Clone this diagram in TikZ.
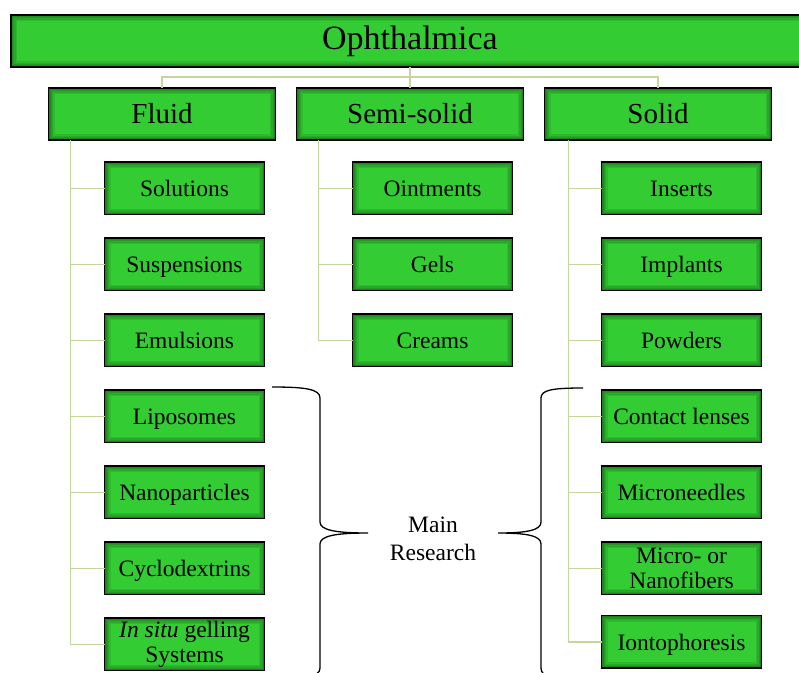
\documentclass[tikz,border=0pt]{standalone}
\usepackage{fontspec}
\setmainfont{Liberation Serif}
\usepackage{tikz}
\usetikzlibrary{positioning}
\definecolor{boxgreen}{HTML}{33CC33}
\definecolor{linkgreen}{HTML}{C3D69B}
\tikzset{
  greenbox/.style={
    draw=black, fill=boxgreen, line width=1.2pt, inner sep=1pt, outer sep=0pt, align=center,
    path picture={
      \foreach \w in {12,9,6,4,2.5}
        \draw[black, opacity=0.09, line width=\w pt] (path picture bounding box.south west) rectangle (path picture bounding box.north east);
    }
  },
  topbox/.style={greenbox, minimum width=798pt, minimum height=52pt, font=\fontsize{34}{38}\selectfont},
  catbox/.style={greenbox, minimum width=227pt, minimum height=52pt, font=\fontsize{29}{32}\selectfont},
  itembox/.style={greenbox, minimum width=160pt, minimum height=52.5pt, text height=20pt, text depth=3pt,
    font=\fontsize{23.5}{25}\selectfont},
  twoline/.style={text height={}, text depth={}},
  link/.style={draw=linkgreen, line width=1.5pt},
  bracket/.style={draw=black, line width=1.3pt}
}
\begin{document}
\begin{tikzpicture}[x=1pt, y=-1pt]
  \useasboundingbox (0,0) rectangle (799,672);
  \node[topbox] (oph) at (410,41) {Ophthalmica};

  \node[catbox, below=21pt of oph] (semi) {Semi-solid};
  \node[catbox, left=21pt of semi] (fluid) {Fluid};
  \node[catbox, right=21pt of semi] (solid) {Solid};

  % fluid column
  \node[itembox, below right=22pt and 56pt of fluid.south west] (sol) {Solutions};
  \node[itembox, below=23.5pt of sol]   (susp)   {Suspensions};
  \node[itembox, below=23.5pt of susp]  (emul)   {Emulsions};
  \node[itembox, below=23.5pt of emul]  (lipo)   {Liposomes};
  \node[itembox, below=23.5pt of lipo]  (nano)   {Nanoparticles};
  \node[itembox, below=23.5pt of nano]  (cyclo)  {Cyclodextrins};
  \node[itembox, twoline, below=23.5pt of cyclo] (insitu) {\textit{In situ} gelling\\Systems};

  % semi-solid column
  \node[itembox, below right=22pt and 56pt of semi.south west] (oint) {Ointments};
  \node[itembox, below=23.5pt of oint] (gels)   {Gels};
  \node[itembox, below=23.5pt of gels] (creams) {Creams};

  % solid column
  \node[itembox, below right=22pt and 57pt of solid.south west] (inserts) {Inserts};
  \node[itembox, below=23.5pt of inserts]  (implants) {Implants};
  \node[itembox, below=23.5pt of implants] (powders)  {Powders};
  \node[itembox, below=23.5pt of powders]  (lenses)   {Contact lenses};
  \node[itembox, below=23.5pt of lenses]   (needles)  {Microneedles};
  \node[itembox, twoline, below=23.5pt of needles] (fibers) {Micro- or\\Nanofibers};
  \node[itembox, below=21pt of fibers]     (ionto)    {Iontophoresis};

  \draw[link] (oph) -- (semi);
  \draw[link] (fluid.north) -- ++(0,-11) -| (solid.north);
  \foreach \c in {sol,susp,emul,lipo,nano,cyclo,insitu}
    \draw[link] ([xshift=22pt]fluid.south west) |- (\c.west);
  \foreach \c in {oint,gels,creams}
    \draw[link] ([xshift=22pt]semi.south west) |- (\c.west);
  \foreach \c in {inserts,implants,powders,lenses,needles,fibers,ionto}
    \draw[link] ([xshift=24pt]solid.south west) |- (\c.west);

  \node[align=center, font=\fontsize{23.5}{28}\selectfont] (main) at (433,539) {Main\\Research};

  \draw[bracket] (272,387) .. controls (305,387) and (320,389) .. (320,398) -- (320,522)
    .. controls (320,530) and (335,533) .. (368,533)
    .. controls (335,533) and (320,536) .. (320,544) -- (320,668)
    .. controls (320,677) and (305,679) .. (272,679);
  \draw[bracket] (583,388) .. controls (552,388) and (541,390) .. (541,398) -- (541,522)
    .. controls (541,530) and (528,533) .. (498,533)
    .. controls (528,533) and (541,536) .. (541,544) -- (541,668)
    .. controls (541,677) and (552,679) .. (583,679);
\end{tikzpicture}
\end{document}
